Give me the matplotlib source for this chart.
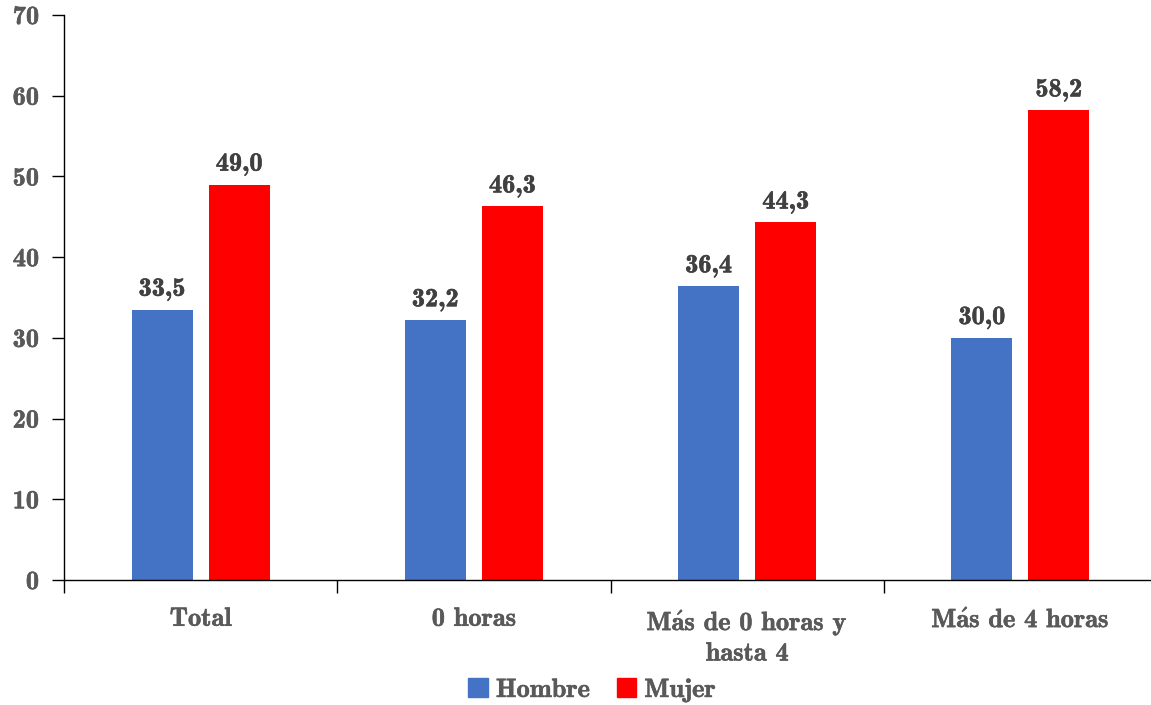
import matplotlib
matplotlib.use("Agg")
import matplotlib.pyplot as plt
import matplotlib.patheffects as pe
import numpy as np
from matplotlib.patches import Patch

plt.rcParams['mathtext.fontset'] = 'cm'
plt.rcParams['font.family'] = ['cmb10', 'DejaVu Serif']

categories = ["Total", "0 horas", "Más de 0 horas y\nhasta 4", "Más de 4 horas"]
hombre = [33.5, 32.2, 36.4, 30.0]
mujer = [49.0, 46.3, 44.3, 58.2]
series_names = ["Hombre", "Mujer"]
yticks = [0, 10, 20, 30, 40, 50, 60, 70]

BLUE = "#4472C4"
RED = "#FF0000"
GRAY = "#595959"
DARK = "#404040"
FS = 19


def stroke(color):
    return [pe.withStroke(linewidth=0.4, foreground=color)]


def lbl(s):
    # accented vowel drawn through mathtext so it stays in Computer Modern
    return s.replace("á", r"$\mathbf{\acute{a}}$")


def fmt(v):
    return f"{v:.1f}".replace(".", ",")


fig = plt.figure(figsize=(11.51, 7.05), dpi=100)
ax = fig.add_axes([64 / 1151, 125 / 705, 1093 / 1151, 565 / 705])

x = np.arange(len(categories)) + 0.5
w = 0.223
off = 0.141
ax.bar(x - off, hombre, w, color=BLUE, zorder=2)
ax.bar(x + off, mujer, w, color=RED, zorder=2)

for xs, vals in ((x - off, hombre), (x + off, mujer)):
    for xi, v in zip(xs, vals):
        ax.text(xi, v + 1.1, fmt(v), ha="center", va="bottom",
                fontsize=FS, color=DARK, path_effects=stroke(DARK))

ax.set_xlim(0, len(categories))
ax.set_ylim(0, 70)
ax.set_yticks(yticks)
ax.set_yticklabels([str(t) for t in yticks], fontsize=FS, color=GRAY)
ax.set_xticks(np.arange(len(categories) + 1))
ax.set_xticklabels([])
ax.set_xticks(x, minor=True)
ax.set_xticklabels([lbl(c) for c in categories], minor=True,
                   fontsize=FS, color=GRAY, linespacing=1.3)
ax.tick_params(axis="x", which="minor", length=0, pad=20)
ax.tick_params(axis="x", which="major", length=9, width=1, color="black", direction="out")
ax.tick_params(axis="y", length=9, width=1, color="black", direction="out", pad=9)
for t in ax.get_yticklabels() + ax.get_xticklabels(minor=True):
    t.set_path_effects(stroke(GRAY))

for s in ("top", "right"):
    ax.spines[s].set_visible(False)
for s in ("left", "bottom"):
    ax.spines[s].set_color("black")
    ax.spines[s].set_linewidth(1)

handles = [Patch(color=BLUE), Patch(color=RED)]
leg = fig.legend(handles, series_names, loc="center",
                 bbox_to_anchor=(592 / 1151, 1 - 690 / 705), ncol=2, frameon=False,
                 fontsize=FS, labelcolor=GRAY, handlelength=0.75, handleheight=0.75,
                 handletextpad=0.3, columnspacing=1.0)
for t in leg.get_texts():
    t.set_path_effects(stroke(GRAY))

fig.savefig("out.png", dpi=100)
